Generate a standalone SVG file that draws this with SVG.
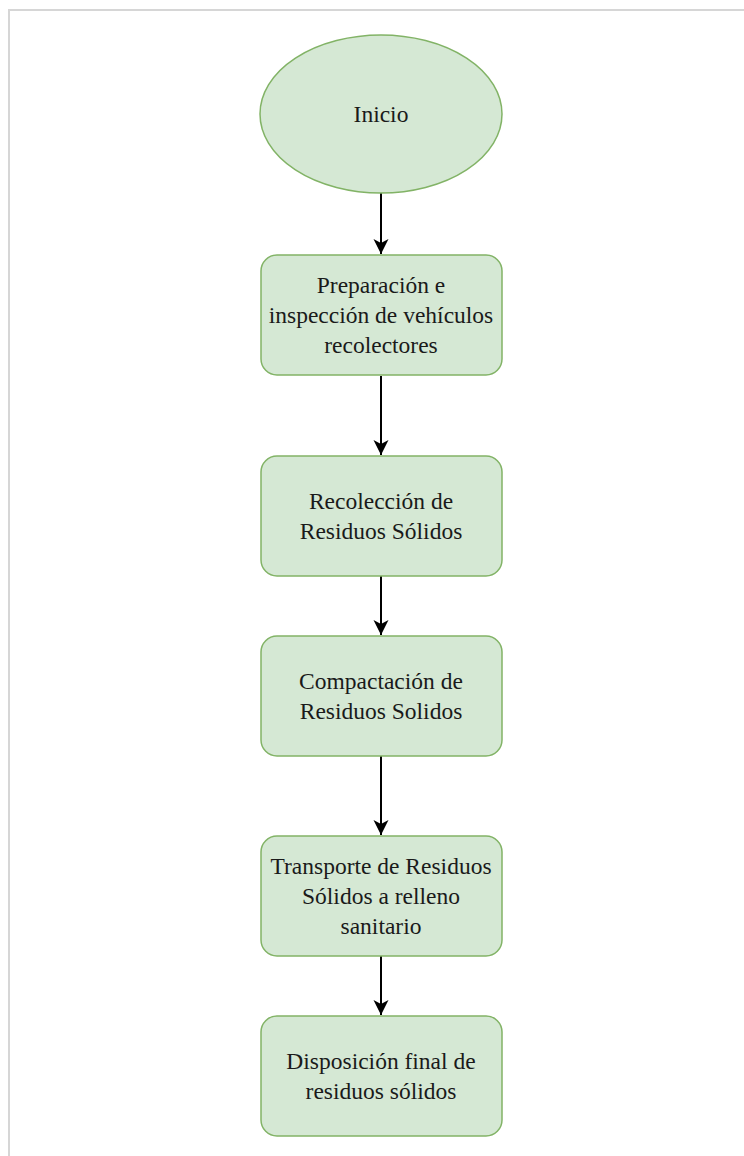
<svg xmlns="http://www.w3.org/2000/svg" width="744" height="1156" viewBox="0 0 744 1156">
<style>
.n{fill:#d5e8d4;stroke:#82b366;stroke-width:1.5}
.t{font-family:"Liberation Serif","Times New Roman",serif;font-size:23.5px;fill:#1a1a1a;text-anchor:middle}
.c{stroke:#000;stroke-width:2;fill:none}
.frame{stroke:#d6d6d6;stroke-width:2;fill:none}
</style>
<defs>
<marker id="ah" markerUnits="userSpaceOnUse" markerWidth="18" markerHeight="18" refX="16" refY="9" orient="auto" viewBox="0 0 18 18">
<path d="M16,9 L1,1.5 L5,9 L1,16.5 Z" fill="#000"/>
</marker>
</defs>
<rect width="744" height="1156" fill="#fff"/>
<path class="frame" d="M9,1156 V10 H744"/>
<g id="connectors">
<line class="c" x1="381" y1="193" x2="381" y2="254" marker-end="url(#ah)"/>
<line class="c" x1="381" y1="376" x2="381" y2="455" marker-end="url(#ah)"/>
<line class="c" x1="381" y1="576" x2="381" y2="635" marker-end="url(#ah)"/>
<line class="c" x1="381" y1="756" x2="381" y2="835" marker-end="url(#ah)"/>
<line class="c" x1="381" y1="956" x2="381" y2="1015" marker-end="url(#ah)"/>
</g>
<g id="inicio">
<ellipse class="n" cx="381" cy="114" rx="121" ry="79"/>
<text class="t" x="381" y="122">Inicio</text>
</g>
<g id="preparacion">
<rect class="n" x="261" y="255" width="241" height="120" rx="16"/>
<text class="t" x="381" y="293">Preparación e</text>
<text class="t" x="381" y="323">inspección de vehículos</text>
<text class="t" x="381" y="353">recolectores</text>
</g>
<g id="recoleccion">
<rect class="n" x="261" y="456" width="241" height="120" rx="16"/>
<text class="t" x="381" y="509">Recolección de</text>
<text class="t" x="381" y="539">Residuos Sólidos</text>
</g>
<g id="compactacion">
<rect class="n" x="261" y="636" width="241" height="120" rx="16"/>
<text class="t" x="381" y="689">Compactación de</text>
<text class="t" x="381" y="719">Residuos Solidos</text>
</g>
<g id="transporte">
<rect class="n" x="261" y="836" width="241" height="120" rx="16"/>
<text class="t" x="381" y="874">Transporte de Residuos</text>
<text class="t" x="381" y="904">Sólidos a relleno</text>
<text class="t" x="381" y="934">sanitario</text>
</g>
<g id="disposicion">
<rect class="n" x="261" y="1016" width="241" height="120" rx="16"/>
<text class="t" x="381" y="1069">Disposición final de</text>
<text class="t" x="381" y="1099">residuos sólidos</text>
</g>
</svg>
